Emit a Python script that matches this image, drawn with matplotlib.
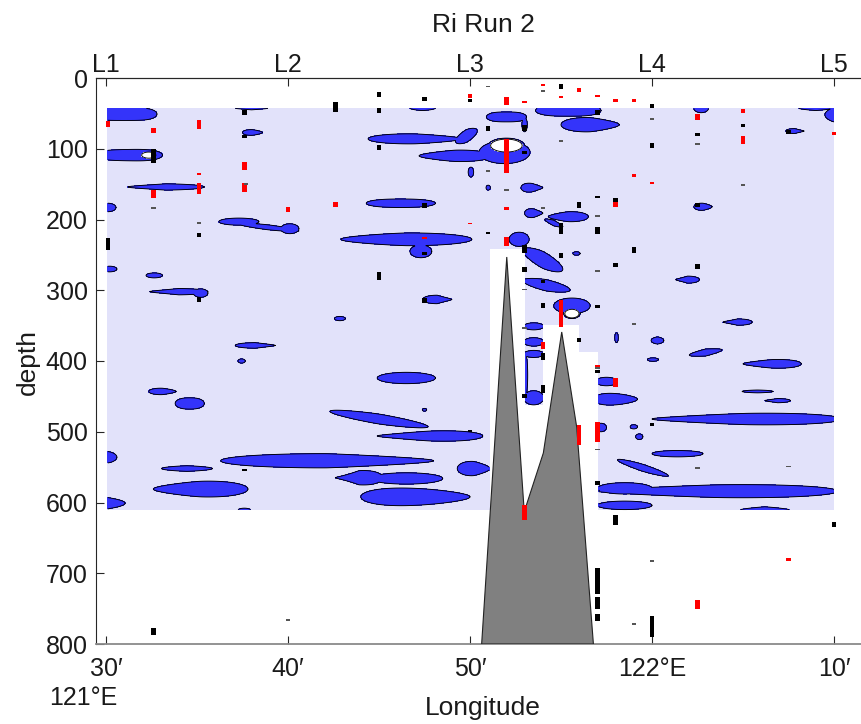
import numpy as np
import matplotlib
matplotlib.use("Agg")
import matplotlib.pyplot as plt
from matplotlib.transforms import blended_transform_factory

plt.rcParams['font.family'] = ['Liberation Sans', 'DejaVu Sans']

# ---- axes annotation -------------------------------------------------------
# longitudes are given in arc-minutes east of 121°E
section_lon = [30, 40, 50, 60, 70]
section_names = ['L1', 'L2', 'L3', 'L4', 'L5']
lon_ticks = [30, 40, 50, 60, 70]
lon_tick_labels = ['30′', '40′', '50′', '122°E', '10′']
depth_ticks = [0, 100, 200, 300, 400, 500, 600, 700, 800]

# ---- gridded Ri section ----------------------------------------------------
grid_lon = (30.1, 70.0)
grid_depth = (43.0, 610.0)

# columns with no data below the given depth (sea floor)
nodata_lon_edges = [51.05, 53.0, 54.0, 56.0, 57.05]
nodata_top = [241, 462, 348, 387]

# bathymetry along the section
topo_lon = [50.64, 52.02, 52.98, 54.03, 55.04, 55.86, 56.78]
topo_depth = [800, 253, 613, 530, 359, 493, 800]

# low-Ri patches: centre, half length (arcmin), half thickness (m),
# slope (m per arcmin), thickness skew and end shape exponent
patch_lon = [31.0, 31.2, 33.3, 30.1, 37.3, 38.9, 40.1, 46.5, 47.3, 30.2,
             32.65, 34.0, 35.2, 38.0, 38.05, 47.4, 52.0, 53.0, 47.0, 49.8,
             49.2, 51.9, 50.05, 51.0, 53.4, 46.2, 53.5, 55.4, 54.6, 55.85,
             52.7, 54.0, 61.95, 48.2, 54.2, 55.6, 53.5, 53.5, 53.5, 53.05,
             53.5, 46.5, 47.5, 45.0, 47.8, 42.15, 34.45, 30.1, 43.9, 46.5,
             47.0, 50.2, 35.2, 30.1, 37.6, 42.85, 38.2, 37.45, 33.1, 34.6,
             55.4, 56.6, 62.7, 69.0, 70.0, 67.85, 62.8, 64.7, 58.05, 60.3,
             62.95, 60.05, 66.6, 65.8, 66.9, 65.2, 57.5, 58.0, 57.2, 59.0,
             59.3, 61.4, 59.5, 58.5, 58.5, 63.6, 66.2]
patch_depth = [51, 109, 154, 183, 203, 211, 213, 228, 245, 270,
               279, 302, 304, 40, 77, 41, 55, 66, 86, 82,
               110, 105, 133, 155, 155, 177, 191, 196, 205, 248,
               228, 257, 285, 313, 293, 322, 351, 373, 390, 420,
               452, 424, 469, 482, 506, 541, 552, 536, 565, 566,
               592, 552, 581, 601, 612, 340, 378, 400, 443, 460,
               46, 66, 43, 42, 52, 75, 182, 345, 367, 371,
               388, 398, 404, 443, 456, 482, 429, 454, 494, 493,
               507, 531, 551, 580, 604, 584, 612]
patch_len = [1.8, 1.9, 2.1, 0.45, 1.1, 1.7, 0.5, 3.6, 0.6, 0.4,
             0.45, 1.6, 0.4, 1.4, 0.55, 0.8, 1.1, 0.15, 2.6, 0.6,
             2.0, 1.4, 0.15, 0.12, 0.6, 1.9, 0.5, 1.1, 0.5, 0.2,
             0.55, 1.1, 0.65, 0.8, 1.3, 1.0, 0.55, 0.55, 0.55, 0.12,
             0.55, 1.6, 0.12, 2.7, 2.9, 5.85, 1.4, 0.5, 1.3, 2.0,
             3.0, 0.9, 2.6, 0.95, 0.4, 0.3, 1.1, 0.2, 0.75, 0.8,
             1.8, 1.6, 0.4, 1.0, 0.5, 0.5, 0.5, 0.8, 0.1, 0.35,
             0.9, 0.3, 1.6, 0.85, 0.7, 5.2, 0.6, 1.2, 0.3, 0.2,
             0.2, 1.4, 1.4, 1.5, 1.5, 6.6, 1.5]
patch_thick = [9, 8, 4.5, 6, 5, 3.5, 7, 9, 9, 4,
               3.5, 4.5, 6, 5, 4, 5, 7, 10, 7, 9,
               8, 16, 7, 3.5, 6, 6, 6, 7, 4, 2.5,
               10, 12, 5, 6, 8, 11, 5, 6, 5, 30,
               10, 8, 2, 7, 7, 10, 4, 8, 10, 8,
               12, 10, 11, 8, 4, 3, 4, 3, 4.5, 8,
               8, 10, 6, 4, 10, 3.5, 5, 4.5, 7, 5,
               5, 2.5, 6, 2, 3, 8, 6, 8, 6, 3,
               4, 4.5, 5, 8, 6, 9, 6]
patch_slope = [0, 0, 0, 0, 0, 3, 0, 0, 0, 0,
               0, 0, 0, 0, 0, 0, 0, 0, 0, -12,
               0, 0, 0, 0, 0, 0, 0, 0, 10, 0,
               0, 12, 0, 0, 5, 0, 0, 0, 0, 0,
               0, 0, 0, 4, 0, 0, 0, 0, 0, 0,
               0, 0, 0, 0, 0, 0, 0, 0, 0, 0,
               0, 0, 0, 0, 0, 0, 0, 0, 0, 0,
               -4, 0, 0, 0, 0, 0, 0, 0, 0, 0,
               0, 0, 8, 0, 0, 0, 0]
patch_skew = [0, 0.1, 0.3, 0, 0, 0, 0, 0.2, 0, 0,
              0, 0.4, 0, 0, -0.3, 0, 0, 0, -0.3, 0,
              0.3, 0, 0, 0, -0.5, 0, -0.5, 0.3, 0, 0,
              0, 0, 0.5, -0.5, 0, 0, 0, 0, 0, 0,
              0, 0, 0, 0, 0.5, -0.3, 0, 0, 0.7, 0,
              -0.3, -0.3, 0.3, 0, 0, 0, -0.4, 0, -0.3, 0,
              0, -0.3, 0, 0, 0, -0.5, -0.3, 0.5, 0, 0,
              0, 0, 0.4, 0, 0.4, 0.4, 0, -0.3, 0, 0,
              0, 0, 0, 0, 0, 0.4, 0]
patch_shape = [4, 3, 1, 2, 2, 1.5, 2, 1.5, 2, 2,
               2, 1, 2, 1, 1.5, 1.5, 3, 2, 1.5, 1.5,
               1.5, 2, 2, 2, 1.5, 2.5, 1.5, 1.5, 1, 2,
               2, 1.5, 1, 1, 1.5, 2, 2, 2, 2, 2,
               2, 2, 2, 1.5, 1.5, 1.3, 1.2, 1.5, 1, 2,
               2, 1.5, 1.6, 1, 2, 2, 1, 2, 1.5, 2.5,
               3, 1.5, 2, 1, 1.2, 1, 1.5, 1, 2, 1.5,
               1, 2, 1.5, 1.5, 1, 1.5, 2, 2, 2, 2,
               2, 2, 1.5, 2, 2, 1.5, 1]

# negative-Ri cores inside some patches
core_lon = [32.35, 52.0, 55.6]
core_depth = [109, 95.5, 333]
core_len = [0.45, 1.0, 0.45]
core_thick = [5, 10.5, 7]

# flagged samples (red) and missing samples (black): lon, top, bottom depth
red_lon = [30.1, 32.6, 35.1, 37.6, 35.1, 35.1, 32.6, 37.6, 40.0, 42.6,
           50.0, 52.0, 53.0, 54.0, 55.0, 56.0, 57.0, 58.0, 59.0, 52.0,
           59.0, 60.0, 58.0, 52.0, 47.5, 52.0, 55.0, 54.0, 58.0, 56.0,
           57.0, 53.0, 62.5, 65.0, 65.0, 70.0, 67.5, 62.5, 50.0, 57.0]
red_top = [61, 71, 59, 119, 134, 148, 158, 148, 182, 175,
           23, 27, 33, 8, 25, 14, 24, 30, 30, 86,
           136, 147, 175, 182, 225, 225, 314, 373, 424, 490,
           486, 603, 51, 44, 82, 76, 678, 738, 205, 406]
red_bottom = [69, 78, 72, 130, 137, 164, 170, 161, 189, 182,
              28, 38, 35, 11, 28, 20, 27, 34, 34, 134,
              140, 150, 182, 187, 228, 237, 352, 383, 437, 519,
              514, 625, 59, 49, 93, 81, 683, 750, 207, 408]

black_lon = [42.6, 45.0, 45.0, 37.6, 37.6, 32.6, 35.1, 30.1, 35.1, 45.0,
             45.0, 47.5, 50.0, 55.0, 57.0, 51.0, 53.0, 53.0, 60.0, 60.0,
             47.5, 56.0, 57.0, 58.0, 55.0, 57.0, 51.0, 53.0, 55.0, 59.0,
             47.5, 58.0, 53.0, 54.0, 57.0, 47.5, 62.5, 65.0, 62.5, 67.5,
             62.5, 53.0, 54.0, 54.0, 54.0, 56.0, 57.0, 57.0, 57.0, 57.0,
             57.0, 58.0, 60.0, 55.0, 57.0, 50.0, 60.0, 70.0, 37.6, 32.6]
black_top = [34, 20, 42, 45, 81, 100, 219, 226, 310, 95,
             274, 27, 30, 8, 45, 68, 66, 103, 37, 92,
             177, 175, 167, 170, 205, 211, 218, 236, 247, 239,
             246, 261, 267, 285, 321, 311, 78, 65, 263, 73,
             177, 446, 318, 389, 434, 367, 413, 570, 693, 734,
             757, 618, 761, 215, 215, 497, 488, 627, 552, 778]
black_bottom = [48, 27, 50, 52, 85, 120, 225, 243, 317, 102,
                285, 33, 34, 16, 52, 75, 75, 108, 42, 99,
                184, 184, 170, 175, 220, 220, 220, 247, 254, 247,
                250, 267, 274, 290, 325, 318, 82, 69, 270, 79,
                182, 452, 325, 398, 445, 373, 417, 575, 729, 750,
                767, 632, 790, 219, 219, 501, 492, 635, 556, 787]

# tiny closed contours drawn as short dashes
dash_lon = [32.6, 35.1, 51.0, 54.0, 55.0, 51.0, 52.0, 54.0, 57.0, 57.0,
            53.0, 53.0, 57.0, 60.0, 59.0, 40.0, 60.0, 62.5, 65.0, 62.5,
            59.0, 37.7, 57.0, 67.5]
dash_depth = [184, 205, 12, 18, 89, 131, 158, 184, 195, 273,
              299, 353, 525, 683, 772, 766, 58, 93, 151, 551,
              348, 150, 410, 549]

# ---- build the field -------------------------------------------------------
lon_g = np.arange(grid_lon[0], grid_lon[1] + 1e-9, 0.025)
dep_g = np.arange(grid_depth[0], grid_depth[1] + 1e-9, 0.5)
LON, DEP = np.meshgrid(lon_g, dep_g)
field = np.full(LON.shape, -1.0)


def window(lc, zc, L, reach):
    i0 = max(np.searchsorted(lon_g, lc - L) - 1, 0)
    i1 = min(np.searchsorted(lon_g, lc + L) + 1, lon_g.size)
    j0 = max(np.searchsorted(dep_g, zc - reach) - 1, 0)
    j1 = min(np.searchsorted(dep_g, zc + reach) + 1, dep_g.size)
    return slice(j0, j1), slice(i0, i1)


for lc, zc, L, T, s, k, p in zip(patch_lon, patch_depth, patch_len,
                                 patch_thick, patch_slope, patch_skew,
                                 patch_shape):
    reach = T * (1 + abs(k)) + abs(s) * L + 2
    sj, si = window(lc, zc, L, reach)
    dx = LON[sj, si] - lc
    dz = DEP[sj, si] - (zc + s * dx)
    th = np.maximum(T * (1 + k * dx / L), 0.2)
    g = 1 - np.abs(dx / L) ** p - (dz / th) ** 2
    field[sj, si] = np.maximum(field[sj, si], g)

for lc, zc, L, T in zip(core_lon, core_depth, core_len, core_thick):
    sj, si = window(lc, zc, L, T + 2)
    dx = LON[sj, si] - lc
    dz = DEP[sj, si] - zc
    g = 6 * (1 - (dx / L) ** 2 - (dz / T) ** 2)
    field[sj, si] = np.maximum(field[sj, si], g)

nodata = np.zeros(LON.shape, dtype=bool)
for a, b, top in zip(nodata_lon_edges[:-1], nodata_lon_edges[1:], nodata_top):
    nodata |= (LON >= a) & (LON < b) & (DEP > top)
field = np.ma.masked_where(nodata, field)

# ---- figure ----------------------------------------------------------------
W, H = 861, 724
fig = plt.figure(figsize=(W / 100, H / 100), dpi=100)
ax_l, ax_r, ax_t, ax_b = 96, 880, 78, 644
ax = fig.add_axes([ax_l / W, 1 - ax_b / H, (ax_r - ax_l) / W, (ax_b - ax_t) / H])

lon_left = 30 + (ax_l - 106) / 18.2
lon_right = 30 + (ax_r - 106) / 18.2
ax.set_xlim(lon_left, lon_right)
ax.set_ylim(800, 0)

lavender = '#E2E2FA'
blue = '#3434FA'
ax.contourf(LON, DEP, field, levels=[-5, 0, 1.5, 10],
            colors=[lavender, blue, 'white'], zorder=1)
ax.contour(LON, DEP, field, levels=[0, 1.5], colors='k',
           linewidths=0.65, zorder=2)

ax.fill(topo_lon, topo_depth, facecolor='#808080', edgecolor='#222222',
        linewidth=0.8, zorder=3)

mark_w = 0.25
ax.bar(red_lon, np.subtract(red_bottom, red_top), bottom=red_top,
       width=mark_w, color='#FF0000', linewidth=0, zorder=4)
ax.bar(black_lon, np.subtract(black_bottom, black_top), bottom=black_top,
       width=mark_w, color='#000000', linewidth=0, zorder=4)
ax.bar(dash_lon, 2.5, bottom=np.subtract(dash_depth, 1.25),
       width=mark_w, color='#555555', linewidth=0, zorder=4)

# ticks and spines
dark = '#262626'
ax.set_yticks(depth_ticks)
ax.set_yticklabels([str(d) for d in depth_ticks])
ax.set_xticks(lon_ticks)
ax.set_xticklabels(lon_tick_labels)
ax.tick_params(axis='both', direction='in', length=6, width=0.8,
               color=dark, labelsize=18, labelcolor='#1a1a1a')
ax.tick_params(axis='y', pad=6)
ax.tick_params(axis='x', pad=9)
ax.spines['right'].set_visible(False)
ax.spines['left'].set_color(dark)
ax.spines['top'].set_color(dark)
ax.spines['bottom'].set_color('#8a8a8a')
ax.spines['bottom'].set_linewidth(1.3)

top = ax.secondary_xaxis('top')
top.set_xticks(section_lon)
top.set_xticklabels(section_names)
top.tick_params(direction='in', length=6, width=0.8, color=dark,
                labelsize=18, labelcolor='#1a1a1a', pad=1)
top.spines['top'].set_color(dark)

trans = blended_transform_factory(ax.transData, ax.transAxes)
ax.text(30.6, (ax_b - 705) / (ax_b - ax_t), '121°E', transform=trans,
        ha='right', va='baseline', fontsize=18, color='#1a1a1a')

fig.text(483 / W, 1 - 715 / H, 'Longitude', ha='center', va='baseline',
         fontsize=19, color='#1a1a1a')
fig.text(28 / W, 1 - 362 / H, 'depth', ha='center', va='center',
         rotation=90, fontsize=19, color='#1a1a1a')
fig.text(483 / W, 1 - 32 / H, 'Ri Run 2', ha='center', va='baseline',
         fontsize=19, color='#1a1a1a')

fig.savefig('out.png', dpi=100)
